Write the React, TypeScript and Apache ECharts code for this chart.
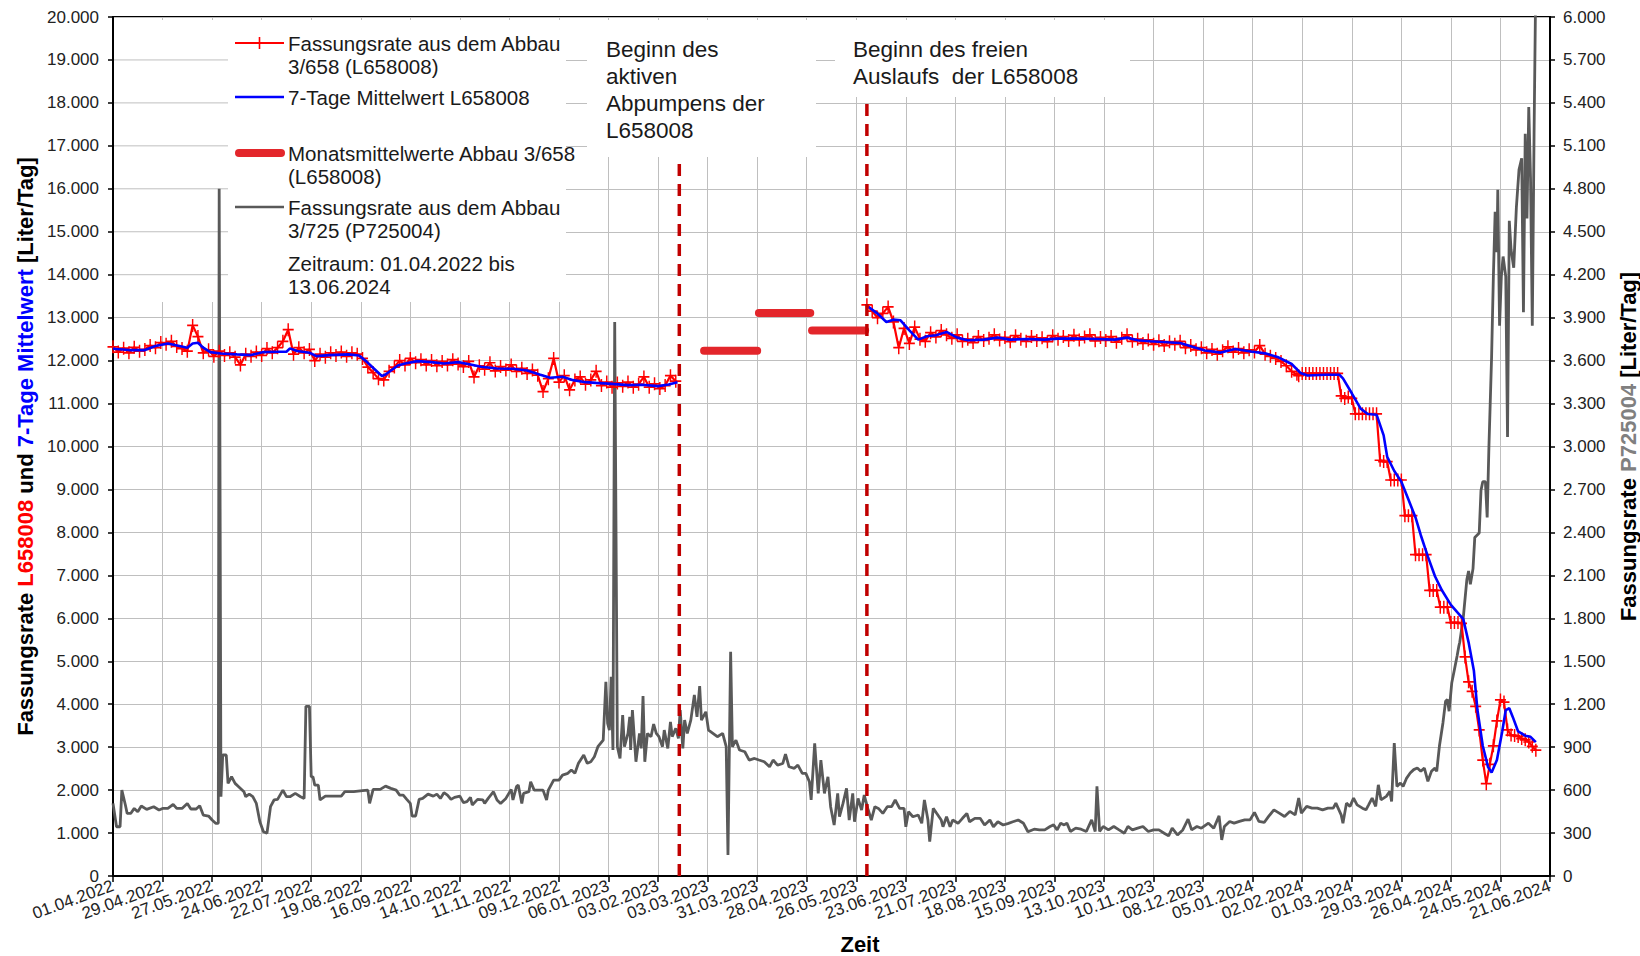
import React, { useEffect, useRef } from "react";
import * as echarts from "echarts";

// ---------- axis definitions ----------
const START_UTC = Date.UTC(2022, 3, 1); // day 0 = 01.04.2022
const X_MAX_DAY = 812; // 21.06.2024
const X_TICK_DAYS = 28;
const LEFT_MAX = 20000;
const LEFT_STEP = 1000;
const RIGHT_MAX = 6000;
const RIGHT_STEP = 300;

// ---------- L658008 daily values (red, left axis) ----------
const redAStart = 0;
const redAStep = 3;
const redA = [
  12320, 12200, 12290, 12180, 12310, 12220, 12260, 12350, 12300, 12420,
  12380, 12450, 12330, 12280, 12220, 12820, 12560, 12180, 12250, 12100,
  12220, 12120, 12180, 12080, 11900, 12150, 12100, 12200, 12120, 12280,
  12180, 12300, 12450, 12720, 12150, 12300, 12180, 12260, 12000, 12150,
  12080, 12180, 12120, 12200, 12100, 12180, 12150, 12050, 11850, 11720,
  11580, 11550, 11750, 11850, 12000, 11900, 12050, 11950, 12020, 11900,
  12000, 11880, 11980, 11900, 12020, 11920, 11860, 11980, 11620, 11880,
  11800, 11950, 11760, 11860, 11780, 11900, 11750, 11820, 11700, 11780,
  11660, 11280, 11580, 12050, 11500, 11650, 11320, 11550, 11620, 11450,
  11550, 11750, 11420, 11500, 11380, 11480, 11400, 11500, 11380, 11450,
  11620, 11380, 11460, 11350, 11420, 11650, 11520,
];
const redBStart = 426;
const redBStep = 3;
const redB = [
  13300, 13150, 13000, 13100, 13250, 12900, 12300, 12750, 12400, 12780,
  12500, 12450, 12650, 12550, 12700, 12600, 12520, 12600, 12450, 12500,
  12420, 12560, 12470, 12520, 12600, 12480, 12540, 12440, 12580, 12500,
  12450, 12560, 12470, 12530, 12440, 12580, 12500, 12560, 12470, 12590,
  12480, 12550, 12600, 12460, 12540, 12470, 12560, 12430, 12520, 12600,
  12450, 12500, 12400, 12480, 12380, 12460, 12350, 12440, 12380, 12450,
  12300, 12350, 12250, 12300, 12180, 12260, 12150, 12230, 12320, 12200,
  12280, 12180, 12250, 12200, 12350, 12150, 12100, 12050, 11980, 11880,
  11750, 11680,
];
const redCStart = 670;
const redCStep = 2;
const redC = [
  11650, 11700, 11700, 11700, 11700, 11700, 11700, 11700, 11700, 11700,
  11700, 11700, 11180, 11120, 11150, 11120, 10760, 10760, 10760, 10760,
  10760, 10760, 10760, 9680, 9650, 9650, 9220, 9220, 9220, 9220,
  8390, 8390, 8390, 7480, 7480, 7480, 7480, 6650, 6650, 6650,
  6260, 6260, 6260, 5900, 5900, 5900, 5880, 5100, 4520, 4300,
  3950, 3400, 2700, 2150, 2600, 3030, 3610, 4100, 4050, 3400,
  3280, 3270, 3250, 3200, 3170, 3120, 3020, 2930,
];

// ---------- 7-Tage Mittelwert (blue, left axis) [day, value] ----------
const blueA = [
  [0, 12276], [9, 12245], [18, 12245], [24, 12339], [31, 12400], [35, 12362], [42, 12300],
  [45, 12400], [48, 12416], [51, 12300], [55, 12198], [61, 12167], [70, 12144], [78, 12128],
  [85, 12198], [94, 12206], [98, 12206], [100, 12284], [104, 12222], [111, 12183], [115, 12105],
  [122, 12128], [133, 12144], [139, 12120], [143, 11988], [148, 11794], [152, 11638], [154, 11677],
  [161, 11887], [165, 11934], [172, 11988], [180, 11965], [187, 11934], [195, 11965], [202, 11911],
  [208, 11856], [217, 11817], [226, 11809], [234, 11770], [241, 11677], [247, 11599], [254, 11623],
  [260, 11545], [267, 11498], [273, 11482], [282, 11459], [291, 11428], [299, 11436], [308, 11405],
  [314, 11444], [319, 11498],
];
const blueB = [
  [427, 13248], [432, 13093], [437, 12899], [441, 12953], [445, 12938], [450, 12705], [455, 12488],
  [460, 12566], [465, 12589], [468, 12628], [471, 12667], [477, 12535], [483, 12473], [492, 12488],
  [500, 12535], [507, 12488], [517, 12504], [526, 12488], [534, 12512], [545, 12512], [556, 12504],
  [566, 12488], [573, 12535], [579, 12473], [586, 12450], [596, 12426], [603, 12411], [609, 12336],
  [617, 12236], [626, 12186], [634, 12269], [643, 12211], [651, 12169], [658, 12086], [666, 11920],
  [671, 11713], [675, 11654], [685, 11671], [693, 11671], [695, 11588], [700, 11239], [705, 10882],
  [709, 10757], [714, 10741], [718, 10259], [720, 9761], [724, 9429], [728, 9179], [732, 8764],
  [736, 8349], [739, 7934], [743, 7435], [747, 6978], [751, 6646], [756, 6314], [763, 5982],
  [766, 5440], [769, 4777], [771, 3864], [774, 3033], [777, 2535], [779, 2410], [782, 2701],
  [785, 3365], [787, 3864], [789, 3905], [791, 3698], [794, 3365], [798, 3266], [801, 3241],
  [804, 3116],
];

// ---------- Monatsmittelwerte (thick red, left axis) ----------
const monthStartDay = [334, 365, 395];
const monthEndDay = [364, 394, 425];
const monthValue = [12230, 13110, 12700];

// ---------- Events (dashed lines) ----------
const eventDay = [320, 426];
const eventTop = [16750, 18050];

// ---------- P725004 (gray, right axis) [day, value] ----------
const grayA = [
  [0, 507], [2, 344], [4, 344], [5, 600], [7, 496], [8, 437], [10, 437], [12, 472], [14, 449],
  [16, 489], [19, 465], [23, 484], [26, 461], [28, 472], [31, 472], [34, 500], [36, 472], [39, 472],
  [42, 507], [44, 468], [47, 468], [49, 491], [51, 426], [54, 419], [56, 391], [58, 368], [59.5, 368],
  [60, 4800], [61, 554], [62, 845], [64, 845], [65, 647], [67, 693], [69, 647], [71, 624], [74, 589],
  [75, 554], [77, 572], [79, 554], [81, 507], [83, 379], [85, 309], [87, 298], [89, 484], [91, 531],
  [93, 535], [96, 600], [98, 554], [100, 554], [103, 577], [106, 554], [108, 542], [109, 1185],
  [111, 1185], [112, 693], [113, 693], [114, 635], [116, 635], [117, 531], [120, 558], [125, 558],
  [129, 558], [131, 589], [136, 589], [141, 596], [144, 600], [145, 507], [147, 605], [151, 605],
  [154, 628], [157, 612], [160, 600], [162, 565], [164, 565], [166, 535], [168, 507], [169, 419],
  [171, 419], [173, 535], [175, 542], [178, 572], [181, 558], [183, 572], [185, 542], [187, 582],
  [189, 565], [191, 535], [193, 549], [196, 558], [198, 512], [200, 519], [202, 549], [203, 496],
  [206, 535], [209, 531], [210, 507], [212, 542], [215, 589], [217, 531], [219, 507], [222, 542],
  [225, 605], [226, 531], [228, 624], [229, 635], [231, 507], [232, 577], [235, 589], [236, 658],
  [238, 600], [241, 600], [243, 600], [245, 531], [246, 600], [249, 670], [252, 670], [254, 705],
  [257, 717], [259, 740], [261, 717], [263, 787], [266, 845], [268, 787],
];
const grayB = [
  [270, 798], [272, 833], [274, 903], [277, 949], [278.5, 1357], [279.5, 1066], [280.5, 1019],
  [281.5, 1392], [282.5, 880], [283.5, 3870], [285, 903], [286.5, 821], [288, 1124], [289, 903],
  [291, 996], [292, 1112], [292.5, 880], [293.5, 1159], [295.5, 798], [297.5, 996], [298.5, 891],
  [299.5, 1257], [300.5, 798], [302, 996], [304, 973], [305.5, 1061], [307, 996], [308.5, 973],
  [310.5, 903], [311.5, 1019], [313.5, 891], [315, 1077], [316, 973], [318, 1031], [319.5, 961],
  [320.5, 1159], [322, 891], [323, 1089], [324.5, 996], [326.5, 1089], [328.5, 1264], [330, 1112],
  [331.5, 1326], [332.5, 1089], [335, 1147], [336.5, 1019], [339, 996], [341.5, 973], [344.5, 996],
  [346.5, 903], [347.5, 147], [349, 1566], [350, 903], [352, 949], [354, 880], [357, 868],
  [359.5, 810], [362.5, 821], [365, 810], [368, 798], [371, 763], [373, 810], [375.5, 775],
  [378.5, 786], [380, 852], [382, 763], [385, 752], [387, 775], [389.5, 717], [391.5, 717],
  [393.5, 659], [394.5, 531], [396.5, 926], [398.5, 577], [400, 810], [402, 577], [404, 693],
  [405.5, 484], [407.5, 356], [409.5, 577], [410.5, 414], [412.5, 507], [414.5, 612], [416, 391],
  [418, 577], [419, 379], [421, 542], [423, 461], [424.5, 565], [426.5, 472], [428.5, 391],
  [430.5, 484], [432.5, 472], [435, 437], [437.5, 484], [440, 484], [442, 531], [444.5, 472],
  [447, 472], [448, 344], [449.5, 449], [452, 414], [455, 426], [457, 368], [458.5, 531],
  [460.5, 391], [461.5, 240], [463.5, 472], [465.5, 437], [468, 391], [469, 344], [471, 414],
  [473, 344], [474.5, 391], [477.5, 368], [480, 403], [482.5, 437], [484, 379], [487, 403],
  [490, 403], [492.5, 356], [495.5, 391], [497.5, 344], [500, 379], [503, 356], [506, 368],
  [508.5, 379], [511.5, 391], [514.5, 368], [517, 309],
];
const grayC = [
  [520.5, 327], [523.5, 322], [526.5, 322], [529.5, 346], [531.5, 357], [533.5, 322], [535.5, 369],
  [537.5, 357], [539, 369], [541, 311], [544, 334], [547, 327], [550, 311], [553, 392], [555, 311],
  [556, 626], [557.5, 311], [559.5, 346], [562.5, 322], [565.5, 346], [568.5, 322], [571.5, 299],
  [573.5, 346], [576, 322], [579, 334], [582, 346], [585, 311], [588, 322], [591, 322], [594, 299],
  [596.5, 280], [598.5, 334], [601.5, 287], [604.5, 322], [607.5, 397], [609.5, 322], [612.5, 346],
  [615, 334], [619, 369], [622, 334], [625, 420], [626.5, 252], [628, 346], [631, 381],
  [633.5, 369], [636.5, 381], [639.5, 392], [642.5, 392], [645, 444], [647.5, 381], [650.5, 374],
  [653, 416], [656, 462], [659, 439], [662, 416], [665, 451], [668, 427], [670, 544], [671.5, 439],
  [674.5, 486], [677.5, 474], [680.5, 474], [683.5, 462], [686.5, 474], [689.5, 474], [691, 509],
  [694, 427], [695, 369], [697, 509], [699, 486], [701, 544], [703, 497], [706, 474], [708, 462],
  [709.5, 497], [711.5, 544], [713.5, 486], [715, 637], [716.5, 532], [719.5, 556], [721.5, 591],
  [722.5, 521], [724, 929], [725.5, 626], [727.5, 649], [729, 626], [731, 684], [733, 719],
  [735, 743], [737, 754], [739, 731], [741, 754], [743, 661], [745, 731], [747, 754], [748, 731],
  [749.5, 906], [751.5, 1069], [753, 1221], [754, 1233], [755, 1151], [756.5, 1350], [758, 1443],
  [759.5, 1536], [760.5, 1606],
];
const grayD = [
  [761, 1633], [763, 1804], [765, 2069], [766, 2131], [767, 2038], [768.5, 2147], [769.5, 2365],
  [772, 2396], [773, 2692], [774, 2754], [775.5, 2754], [776.5, 2505], [777.5, 3003], [779, 3626],
  [780, 4187], [781, 4639], [782, 4358], [782.5, 4794], [783.5, 3844], [784.5, 4187], [785.5, 4327],
  [787, 4187], [788, 3066], [789, 4576], [790, 4374], [791.5, 4249], [793, 4670], [794.5, 4935],
  [796, 5013], [797, 3938], [798, 5184], [799, 4592], [800, 5371], [801, 4873], [802, 3844],
  [803, 5184], [804, 6300],
];

// ---------- helpers ----------
const FONT = '"Liberation Sans", Arial, sans-serif';
const pad2 = (n: number) => String(n).padStart(2, "0");
const fmtDay = (d: number) => {
  const dt = new Date(START_UTC + Math.round(d) * 86400000);
  return `${pad2(dt.getUTCDate())}.${pad2(dt.getUTCMonth() + 1)}.${dt.getUTCFullYear()}`;
};
const fmtDe = (v: number) => {
  const n = Math.round(v);
  if (n < 1000) return String(n);
  return `${Math.floor(n / 1000)}.${String(n % 1000).padStart(3, "0")}`;
};
const stepped = (start: number, step: number, vals: number[]) =>
  vals.map((v, i) => [start + i * step, v]);

const PLUS = "path://M5.2,0H6.8V5.2H12V6.8H6.8V12H5.2V6.8H0V5.2H5.2Z";
const RED = "#FF0000";
const BLUE = "#0000FF";
const GRAY = "#595959";
const GRID = "#BFBFBF";
const TXT = "#1a1a1a";

export default function App() {
  const ref = useRef<HTMLDivElement>(null);

  useEffect(() => {
    if (!ref.current) return;
    const chart = echarts.init(ref.current, null, { renderer: "svg" });

    const redSeries = (data: number[][]) => ({
      type: "line",
      yAxisIndex: 0,
      data,
      symbol: PLUS,
      symbolSize: [11, 13],
      showSymbol: true,
      showAllSymbol: true,
      lineStyle: { color: RED, width: 2.2 },
      itemStyle: { color: RED },
      z: 4,
      silent: true,
    });
    const blueSeries = (data: number[][]) => ({
      type: "line",
      yAxisIndex: 0,
      data,
      showSymbol: false,
      lineStyle: { color: BLUE, width: 2.6 },
      z: 5,
      silent: true,
    });

    const monthSeries = monthValue.map((v, i) => ({
      type: "line",
      yAxisIndex: 0,
      data: [
        [monthStartDay[i], v],
        [monthEndDay[i], v],
      ],
      showSymbol: false,
      lineStyle: { color: "#E3262B", width: 8, cap: "round" },
      z: 5,
      silent: true,
    }));

    const eventSeries = eventDay.map((d, i) => ({
      type: "line",
      yAxisIndex: 0,
      data: [
        [d, 0],
        [d, eventTop[i]],
      ],
      showSymbol: false,
      lineStyle: { color: "#C00000", width: 3.5, type: [12, 8] },
      z: 6,
      silent: true,
    }));

    const titleRich = {
      k: { color: "#000", fontWeight: "bold", fontSize: 22, fontFamily: FONT },
      r: { color: RED, fontWeight: "bold", fontSize: 22, fontFamily: FONT },
      b: { color: BLUE, fontWeight: "bold", fontSize: 22, fontFamily: FONT },
      g: { color: "#808080", fontWeight: "bold", fontSize: 22, fontFamily: FONT },
    };

    const axisLabelBase = { fontSize: 17, color: "#222", fontFamily: FONT };

    chart.setOption({
      animation: false,
      backgroundColor: "#fff",
      textStyle: { fontFamily: FONT },
      grid: {
        left: 113,
        right: 90,
        top: 17,
        bottom: 80,
        containLabel: false,
        outerBoundsMode: "none",
        show: true,
        borderColor: "#000",
        borderWidth: 2,
      },
      xAxis: {
        type: "value",
        min: 0,
        max: X_MAX_DAY,
        interval: X_TICK_DAYS,
        axisLine: { show: true, lineStyle: { color: "#000", width: 2 } },
        axisTick: { show: true, length: 6, lineStyle: { color: "#000", width: 1.5 } },
        axisLabel: {
          ...axisLabelBase,
          rotate: 20,
          margin: 9,
          showMinLabel: true,
          showMaxLabel: true,
          hideOverlap: false,
          formatter: (v: number) => fmtDay(v),
        },
        splitLine: { show: true, lineStyle: { color: GRID, width: 1 } },
      },
      yAxis: [
        {
          type: "value",
          position: "left",
          min: 0,
          max: LEFT_MAX,
          interval: LEFT_STEP,
          axisLine: { show: true, lineStyle: { color: "#000", width: 2 } },
          axisTick: { show: true, length: 5, lineStyle: { color: "#000", width: 1.5 } },
          axisLabel: { ...axisLabelBase, margin: 14, formatter: (v: number) => fmtDe(v) },
          splitLine: { show: true, lineStyle: { color: GRID, width: 1 } },
          name: "{k|Fassungsrate }{r|L658008}{k| und }{b|7-Tage Mittelwert}{k| [Liter/Tag]}",
          nameLocation: "middle",
          nameRotate: 90,
          nameGap: 63,
          nameTextStyle: { rich: titleRich },
        },
        {
          type: "value",
          position: "right",
          min: 0,
          max: RIGHT_MAX,
          interval: RIGHT_STEP,
          axisLine: { show: true, lineStyle: { color: "#000", width: 2 } },
          axisTick: { show: true, length: 5, lineStyle: { color: "#000", width: 1.5 } },
          axisLabel: { ...axisLabelBase, margin: 13, formatter: (v: number) => fmtDe(v) },
          splitLine: { show: false },
          name: "{k|Fassungsrate }{g|P725004}{k| [Liter/Tag]}",
          nameLocation: "middle",
          nameRotate: 90,
          nameGap: 67,
          nameTextStyle: { rich: titleRich },
        },
      ],
      series: [
        {
          type: "line",
          yAxisIndex: 1,
          data: [...grayA, ...grayB, ...grayC, ...grayD],
          showSymbol: false,
          lineStyle: { color: GRAY, width: 2.8 },
          z: 3,
          silent: true,
        },
        redSeries(stepped(redAStart, redAStep, redA)),
        redSeries([...stepped(redBStart, redBStep, redB), ...stepped(redCStart, redCStep, redC)]),
        blueSeries(blueA),
        blueSeries(blueB),
        ...monthSeries,
        ...eventSeries,
      ],
    });

    // decoration: white boxes behind legend and annotations, legend items
    const x0 = chart.convertToPixel({ xAxisIndex: 0 }, 0) as number;
    const fillerVals = [14000, 15000, 16000, 17000, 18000, 19000];
    const fillers = fillerVals.map((v) => {
      const y = chart.convertToPixel({ yAxisIndex: 0 }, v) as number;
      return {
        type: "line",
        z: 1,
        silent: true,
        shape: { x1: x0 + 1, y1: y, x2: 228, y2: y },
        style: { stroke: GRID, lineWidth: 1 },
      };
    });
    const whiteRect = (x: number, y: number, w: number, h: number) => ({
      type: "rect",
      z: 1,
      silent: true,
      shape: { x, y, width: w, height: h },
      style: { fill: "#fff" },
    });
    const legText = (y: number, text: string) => ({
      type: "text",
      z: 10,
      silent: true,
      x: 288,
      y,
      style: {
        text,
        fontSize: 20.5,
        fontFamily: FONT,
        fill: TXT,
        lineHeight: 23,
        verticalAlign: "top",
        align: "left",
      },
    });
    const annText = (x: number, text: string) => ({
      type: "text",
      z: 10,
      silent: true,
      x,
      y: 35.5,
      style: {
        text,
        fontSize: 22.5,
        fontFamily: FONT,
        fill: TXT,
        lineHeight: 27,
        verticalAlign: "top",
        align: "left",
      },
    });
    const legLine = (y: number, color: string, width: number, cap = "butt", x1 = 235, x2 = 284) => ({
      type: "line",
      z: 10,
      silent: true,
      shape: { x1, y1: y, x2, y2: y },
      style: { stroke: color, lineWidth: width, lineCap: cap },
    });

    chart.setOption({
      graphic: [
        whiteRect(x0 + 1, 20, 566 - x0 - 1, 282),
        whiteRect(587, 20, 229, 137),
        whiteRect(835, 20, 295, 77),
        ...fillers,
        legLine(43, RED, 2),
        {
          type: "rect",
          z: 11,
          silent: true,
          shape: { x: 258.7, y: 37, width: 1.6, height: 12 },
          style: { fill: RED },
        },
        {
          type: "rect",
          z: 11,
          silent: true,
          shape: { x: 254.5, y: 42.2, width: 10, height: 1.6 },
          style: { fill: RED },
        },
        legText(31.5, "Fassungsrate aus dem Abbau\n3/658 (L658008)"),
        legLine(97, BLUE, 2.6),
        legText(85.5, "7-Tage Mittelwert L658008"),
        legLine(153, "#E3262B", 8, "round", 239, 281),
        legText(141.5, "Monatsmittelwerte Abbau 3/658\n(L658008)"),
        legLine(207, GRAY, 2.5),
        legText(195.5, "Fassungsrate aus dem Abbau\n3/725 (P725004)"),
        legText(251.5, "Zeitraum: 01.04.2022 bis\n13.06.2024"),
        annText(606, "Beginn des\naktiven\nAbpumpens der\nL658008"),
        annText(853, "Beginn des freien\nAuslaufs  der L658008"),
        {
          type: "text",
          z: 10,
          silent: true,
          x: 860,
          y: 944,
          style: {
            text: "Zeit",
            fontSize: 22,
            fontWeight: "bold",
            fontFamily: FONT,
            fill: "#000",
            align: "center",
            verticalAlign: "middle",
          },
        },
      ],
    });

    return () => chart.dispose();
  }, []);

  return (
    <div
      ref={ref}
      style={{ position: "absolute", left: 0, top: 0, width: 1640, height: 956, background: "#fff" }}
    />
  );
}
